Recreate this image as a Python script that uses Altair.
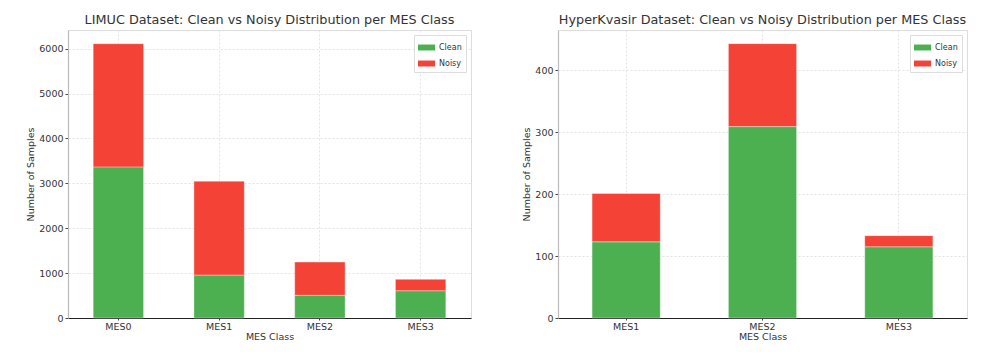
import altair as alt
import pandas as pd

# LIMUC data
limuc_classes = ["MES0", "MES1", "MES2", "MES3"]
limuc_clean = [3366, 957, 505, 607]
limuc_noisy = [2744, 2091, 741, 254]

# HyperKvasir data
hk_classes = ["MES1", "MES2", "MES3"]
hk_clean = [123, 309, 115]
hk_noisy = [78, 134, 18]

series = ["Clean", "Noisy"]
colors = ["#4CAF50", "#F44336"]
FONT = "DejaVu Sans"


def make_df(classes, clean, noisy):
    rows = []
    for c, v in zip(classes, clean):
        rows.append({"cls": c, "Type": "Clean", "count": v, "ord": 0})
    for c, v in zip(classes, noisy):
        rows.append({"cls": c, "Type": "Noisy", "count": v, "ord": 1})
    return pd.DataFrame(rows)


def panel(df, classes, title, width, ymax, ystep):
    return alt.Chart(df, title=alt.Title(title, fontSize=12.8, font=FONT, fontWeight="normal",
                                         color="#333333", offset=3)).mark_bar(
        stroke="white", strokeWidth=0.6, strokeOpacity=0.6
    ).encode(
        x=alt.X("cls:N", sort=classes, title="MES Class",
                scale=alt.Scale(paddingInner=0.5, paddingOuter=0.25),
                axis=alt.Axis(labelAngle=0, bandPosition=0.5, grid=True,
                              gridDash=[2, 2], gridColor="#e3e3e3",
                              domainColor="#222222", tickColor="#444444", tickSize=2,
                              labelFontSize=9.5, titleFontSize=9.5, labelColor="#333333",
                              titleColor="#333333", titleFontWeight="normal", labelFont=FONT,
                              titleFont=FONT, titlePadding=1, labelPadding=1)),
        y=alt.Y("count:Q", title="Number of Samples",
                scale=alt.Scale(domain=[0, ymax], nice=False),
                axis=alt.Axis(values=list(range(0, int(ymax) + 1, ystep)), format="d",
                              grid=True, gridDash=[2, 2], gridColor="#e3e3e3",
                              domainColor="#bbbbbb", domainWidth=1.2, tickColor="#444444",
                              tickSize=3, labelFontSize=9.5, titleFontSize=9.5,
                              labelColor="#333333", titleColor="#333333",
                              titleFontWeight="normal", labelFont=FONT, titleFont=FONT,
                              titlePadding=3, labelPadding=2)),
        color=alt.Color("Type:N", scale=alt.Scale(domain=series, range=colors),
                        legend=alt.Legend(title=None, orient="top-right", offset=5,
                                          symbolType="M-1,-0.35H1V0.35H-1Z", symbolSize=289,
                                          symbolStrokeWidth=0, labelFontSize=8,
                                          labelFont=FONT, labelColor="#333333",
                                          strokeColor="#dddddd", padding=4,
                                          fillColor="white", rowPadding=3)),
        order=alt.Order("ord:Q"),
    ).properties(width=width, height=288)


left = panel(make_df(limuc_classes, limuc_clean, limuc_noisy), limuc_classes,
             "LIMUC Dataset: Clean vs Noisy Distribution per MES Class", 403, 6415, 1000)
right = panel(make_df(hk_classes, hk_clean, hk_noisy), hk_classes,
              "HyperKvasir Dataset: Clean vs Noisy Distribution per MES Class", 409, 465, 100)

chart = alt.hconcat(left, right, spacing=49).resolve_scale(color="independent").resolve_legend(
    color="independent"
).configure_view(stroke=None).configure(padding={"left": 17, "top": 5, "right": 5, "bottom": 5})

chart.save("out.html", embed_options={"renderer": "svg", "actions": False})
